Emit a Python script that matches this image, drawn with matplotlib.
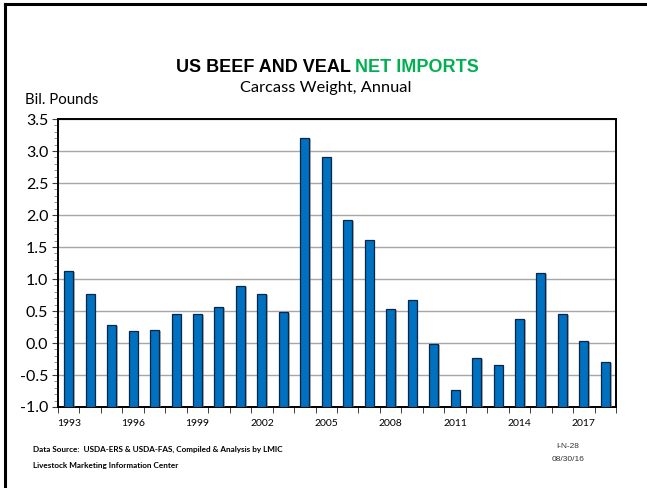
import matplotlib
matplotlib.use("Agg")
import matplotlib.pyplot as plt
from matplotlib.ticker import MultipleLocator, FixedLocator, FuncFormatter
import matplotlib.patheffects as pe
from matplotlib.lines import Line2D

# Annual US beef and veal net imports, billion pounds (carcass weight)
years = list(range(1993, 2019))
net_imports = [1.12, 0.76, 0.28, 0.19, 0.20, 0.46, 0.45, 0.56, 0.89, 0.76,
               0.48, 3.21, 2.90, 1.93, 1.61, 0.53, 0.68, -0.01, -0.74, -0.24,
               -0.35, 0.37, 1.10, 0.45, 0.03, -0.29]
y_min, y_max = -1.0, 3.5
label_years = years[::3]

fig = plt.figure(figsize=(6.47, 4.88), dpi=100)
ax = fig.add_axes([0.0896, 0.166, 0.8626, 0.590])

x = list(range(len(years)))
heights = [v - y_min for v in net_imports]
bars = ax.bar(x, heights, bottom=y_min, width=0.42, color="#0070C0",
              edgecolor="#0B2545", linewidth=0.9, zorder=3)
for b in bars:
    b.set_path_effects([pe.SimplePatchShadow(offset=(1.2, -0.8),
                                             shadow_rgbFace="#7f7f7f", alpha=0.6),
                        pe.Normal()])

ax.set_xlim(-0.5, len(years) - 0.5)
ax.set_ylim(y_min, y_max)

# y axis
ax.yaxis.set_major_locator(MultipleLocator(0.5))
ax.yaxis.set_minor_locator(MultipleLocator(0.1))
ax.yaxis.set_major_formatter(FuncFormatter(lambda v, p: f"{v:.1f}"))
ax.tick_params(axis="y", which="major", direction="out", length=4, width=0.8,
               color="#404040", labelsize=11.5, pad=3)
ax.tick_params(axis="y", which="minor", direction="out", length=3, width=0.6,
               color="#808080")
for lab in ax.get_yticklabels():
    lab.set_fontfamily("Lato")

# x axis: labels every third year, tick marks between categories
ax.xaxis.set_major_locator(FixedLocator([years.index(y) for y in label_years]))
ax.set_xticklabels([str(y) for y in label_years], fontfamily="Lato", fontsize=7.5)
ax.xaxis.set_minor_locator(FixedLocator([i - 0.5 for i in range(len(years) + 1)]))
ax.tick_params(axis="x", which="major", length=0, pad=9)
ax.tick_params(axis="x", which="minor", direction="out", length=4, width=0.7,
               color="#404040")

ax.grid(axis="y", which="major", color="#A6A6A6", linewidth=1.0, zorder=0)
for s in ax.spines.values():
    s.set_linewidth(1.4)
    s.set_color("black")

# titles
fig.text(0.549, 0.862, "US BEEF AND VEAL ", ha="right", va="center",
         fontsize=13, fontweight="bold", fontfamily="Liberation Sans", color="black")
fig.text(0.549, 0.862, "NET IMPORTS", ha="left", va="center",
         fontsize=13, fontweight="bold", fontfamily="Liberation Sans", color="#00B050")
fig.text(0.504, 0.820, "Carcass Weight, Annual", ha="center", va="center",
         fontsize=11.8, fontfamily="Lato")
fig.text(0.039, 0.795, "Bil. Pounds", ha="left", va="center",
         fontsize=10.8, fontfamily="Lato")

# footer
fig.text(0.051, 0.080, "Data Source:  USDA-ERS & USDA-FAS, Compiled & Analysis by LMIC",
         ha="left", va="center", fontsize=5.9, fontweight="bold", fontfamily="Lato")
fig.text(0.051, 0.047, "Livestock Marketing Information Center",
         ha="left", va="center", fontsize=5.9, fontweight="bold", fontfamily="Lato")
fig.text(0.878, 0.086, "I-N-28", ha="center", va="center", fontsize=6,
         fontfamily="Liberation Sans", color="#333333")
fig.text(0.878, 0.058, "08/30/16", ha="center", va="center", fontsize=6,
         fontfamily="Liberation Sans", color="#333333")

# slide frame on the left and top edges
fig.add_artist(Line2D([0.0077, 0.0077], [0.0, 0.992], transform=fig.transFigure,
                      color="black", linewidth=2.2))
fig.add_artist(Line2D([0.0077, 1.0], [0.992, 0.992], transform=fig.transFigure,
                      color="black", linewidth=2.2))

fig.savefig("out.png", dpi=100)
